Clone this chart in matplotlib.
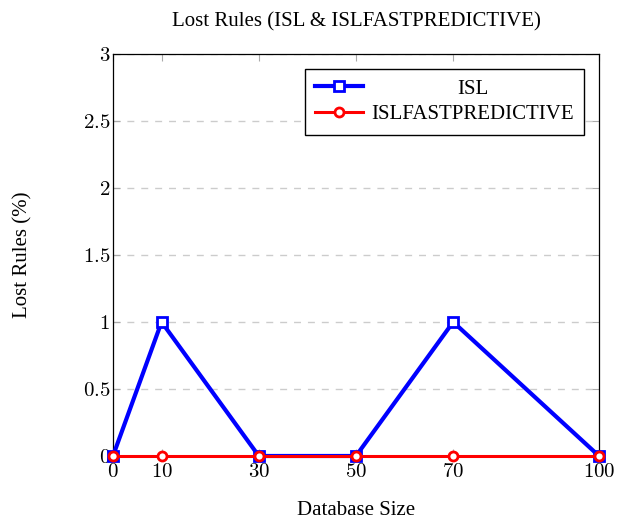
import matplotlib
matplotlib.use("Agg")
import matplotlib.pyplot as plt

plt.rcParams['font.family'] = ['Liberation Serif', 'DejaVu Serif']
plt.rcParams['mathtext.fontset'] = 'cm'

db_size = [0, 10, 30, 50, 70, 100]
isl = [0, 1, 0, 0, 1, 0]
isl_fast = [0, 0, 0, 0, 0, 0]
x_ticks = [0, 10, 30, 50, 70, 100]
y_ticks = [0, 0.5, 1, 1.5, 2, 2.5, 3]

fig = plt.figure(figsize=(6.17, 5.2), dpi=100)
ax = fig.add_axes([0.1831, 0.1231, 0.7877, 0.7731])

ax.plot(db_size, isl, color='blue', lw=3, marker='s', ms=6.5,
        mfc='white', mec='blue', mew=2, label='ISL', zorder=3, clip_on=False)
ax.plot(db_size, isl_fast, color='red', lw=2.2, marker='o', ms=6.5,
        mfc='white', mec='red', mew=2, label='ISLFASTPREDICTIVE', zorder=4,
        clip_on=False)

ax.set_xlim(0, 100)
ax.set_ylim(0, 3)
ax.set_xticks(x_ticks)
ax.set_xticklabels(['$%d$' % v for v in x_ticks])
ax.set_yticks(y_ticks)
ax.set_yticklabels(['$%g$' % v for v in y_ticks])
ax.tick_params(direction='in', top=True, right=True, color='#aaaaaa',
               length=5, labelsize=15, pad=2)
ax.tick_params(axis='x', pad=5)
ax.grid(axis='y', ls=(0, (5, 5)), color='#cccccc', lw=1)
for s in ax.spines.values():
    s.set_linewidth(0.9)

ax.set_title('Lost Rules (ISL & ISLFASTPREDICTIVE)', fontsize=15, pad=20)
ax.set_xlabel('Database Size', fontsize=15, labelpad=14)
ax.set_ylabel('Lost Rules (%)', fontsize=15, labelpad=36)

leg = ax.legend(loc='upper right', fontsize=15, fancybox=False,
                edgecolor='black', framealpha=1, handlelength=2.3,
                handletextpad=0.4, borderaxespad=0.7, labelspacing=0.3,
                borderpad=0.5)
leg.get_frame().set_linewidth(1)

# centre the short label in the text column, like the original
fig.canvas.draw()
texts = leg.get_texts()
w_long = texts[1].get_window_extent().width
w_short = texts[0].get_window_extent().width
texts[0].set_position(((w_long - w_short) / 2, 0))

plt.savefig('out.png', dpi=100)
